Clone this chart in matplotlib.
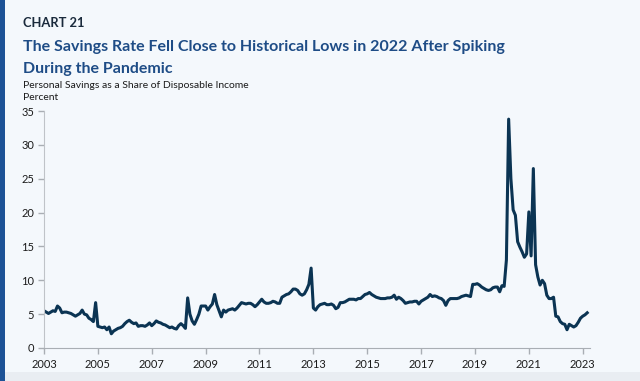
import matplotlib
matplotlib.use("Agg")
import matplotlib.pyplot as plt
import matplotlib.patches as patches
import numpy as np

# Personal saving rate, monthly, Jan 2003 - Mar 2023 (percent)
rate_2003 = [5.5, 5.3, 5.1, 5.3, 5.5, 5.4, 6.2, 5.9, 5.2, 5.3, 5.3, 5.2]
rate_2004 = [5.1, 4.9, 4.7, 4.9, 5.1, 5.6, 5.0, 4.9, 4.4, 4.2, 3.9, 6.7]
rate_2005 = [3.2, 3.1, 3.0, 3.1, 2.7, 3.1, 2.1, 2.5, 2.7, 2.9, 3.0, 3.2]
rate_2006 = [3.6, 3.9, 4.1, 3.8, 3.6, 3.7, 3.2, 3.3, 3.3, 3.2, 3.4, 3.7]
rate_2007 = [3.3, 3.6, 4.0, 3.8, 3.7, 3.5, 3.4, 3.2, 3.0, 3.1, 2.9, 2.8]
rate_2008 = [3.3, 3.6, 3.3, 2.9, 7.4, 5.0, 4.0, 3.5, 4.2, 5.0, 6.2, 6.2]
rate_2009 = [6.2, 5.6, 6.1, 6.5, 7.9, 6.4, 5.5, 4.6, 5.6, 5.3, 5.6, 5.7]
rate_2010 = [5.8, 5.6, 5.9, 6.3, 6.7, 6.6, 6.5, 6.6, 6.6, 6.4, 6.1, 6.4]
rate_2011 = [6.8, 7.2, 6.8, 6.6, 6.6, 6.7, 6.9, 6.8, 6.6, 6.6, 7.5, 7.7]
rate_2012 = [7.9, 8.0, 8.3, 8.7, 8.7, 8.5, 8.0, 7.8, 8.0, 8.6, 9.4, 11.8]
rate_2013 = [5.9, 5.6, 6.1, 6.4, 6.5, 6.6, 6.4, 6.4, 6.5, 6.3, 5.8, 6.0]
rate_2014 = [6.7, 6.7, 6.8, 7.0, 7.2, 7.2, 7.2, 7.1, 7.3, 7.3, 7.6, 7.9]
rate_2015 = [8.0, 8.2, 7.9, 7.7, 7.5, 7.4, 7.3, 7.3, 7.3, 7.4, 7.4, 7.5]
rate_2016 = [7.8, 7.2, 7.5, 7.3, 7.0, 6.6, 6.7, 6.8, 6.8, 6.9, 6.9, 6.5]
rate_2017 = [6.9, 7.1, 7.3, 7.5, 7.9, 7.6, 7.7, 7.6, 7.4, 7.3, 7.0, 6.3]
rate_2018 = [7.0, 7.3, 7.3, 7.3, 7.3, 7.4, 7.6, 7.7, 7.8, 7.7, 7.6, 9.4]
rate_2019 = [9.4, 9.5, 9.3, 9.0, 8.8, 8.6, 8.5, 8.6, 8.9, 9.0, 9.0, 8.3]
rate_2020 = [9.2, 9.1, 13.0, 33.8, 25.0, 20.4, 19.6, 15.7, 14.9, 14.2, 13.4, 13.9]
rate_2021 = [20.1, 13.6, 26.5, 12.3, 10.5, 9.3, 10.0, 9.5, 7.8, 7.3, 7.3, 7.5]
rate_2022 = [4.7, 4.6, 3.9, 3.6, 3.5, 2.7, 3.5, 3.3, 3.1, 3.3, 3.8, 4.4]
rate_2023 = [4.7, 4.9, 5.2]

rate = (rate_2003 + rate_2004 + rate_2005 + rate_2006 + rate_2007 + rate_2008
        + rate_2009 + rate_2010 + rate_2011 + rate_2012 + rate_2013 + rate_2014
        + rate_2015 + rate_2016 + rate_2017 + rate_2018 + rate_2019 + rate_2020
        + rate_2021 + rate_2022 + rate_2023)
months = 2003 + np.arange(len(rate)) / 12.0

year_ticks = list(range(2003, 2024, 2))
y_ticks = [0, 5, 10, 15, 20, 25, 30, 35]

bg = '#F4F8FC'
line_color = '#0B3453'
title_color = '#1E4C86'
text_color = '#1B1B1B'

plt.rcParams['font.family'] = ['Lato', 'DejaVu Sans']

fig = plt.figure(figsize=(6.4, 3.81), dpi=100)
fig.patch.set_facecolor(bg)

# left accent bar and bottom strip
fig.add_artist(patches.Rectangle((0, 0), 5 / 640, 1, transform=fig.transFigure,
                                 facecolor='#1D5296', edgecolor='none'))
fig.add_artist(patches.Rectangle((5 / 640, 0), 1, 9 / 381, transform=fig.transFigure,
                                 facecolor='#E9EDF2', edgecolor='none'))

ax = fig.add_axes([44 / 640, 1 - 348 / 381, (590 - 44) / 640, (348 - 111) / 381])
ax.set_facecolor(bg)
ax.plot(months, rate, color=line_color, linewidth=2.2, solid_joinstyle='round')

ax.set_xlim(2003, 2023.27)
ax.set_ylim(0, 35)
ax.set_xticks(year_ticks)
ax.set_xticklabels([str(y) for y in year_ticks])
ax.set_yticks(y_ticks)

for side in ['top', 'right']:
    ax.spines[side].set_visible(False)
ax.spines['left'].set_color('#BFC3C8')
ax.spines['bottom'].set_color('#A9AEB4')
ax.tick_params(axis='both', colors='#A9AEB4', labelcolor=text_color,
               labelsize=8, length=4, width=1.0, direction='out')
ax.tick_params(axis='y', pad=3)
ax.tick_params(axis='x', pad=4)

x0 = 23 / 640
fig.text(x0, 1 - 23 / 381, 'CHART 21', fontsize=9.3, fontweight='bold',
         color='#1A2A3C', va='center', ha='left')
fig.text(x0, 1 - 47 / 381,
         'The Savings Rate Fell Close to Historical Lows in 2022 After Spiking',
         fontsize=11.5, fontweight='bold', color=title_color, va='center', ha='left')
fig.text(x0, 1 - 69 / 381, 'During the Pandemic',
         fontsize=11.5, fontweight='bold', color=title_color, va='center', ha='left')
fig.text(x0, 1 - 85 / 381, 'Personal Savings as a Share of Disposable Income',
         fontsize=7.5, color=text_color, va='center', ha='left')
fig.text(x0, 1 - 97 / 381, 'Percent',
         fontsize=7.5, color=text_color, va='center', ha='left')

fig.savefig('out.png', dpi=100, facecolor=bg)
